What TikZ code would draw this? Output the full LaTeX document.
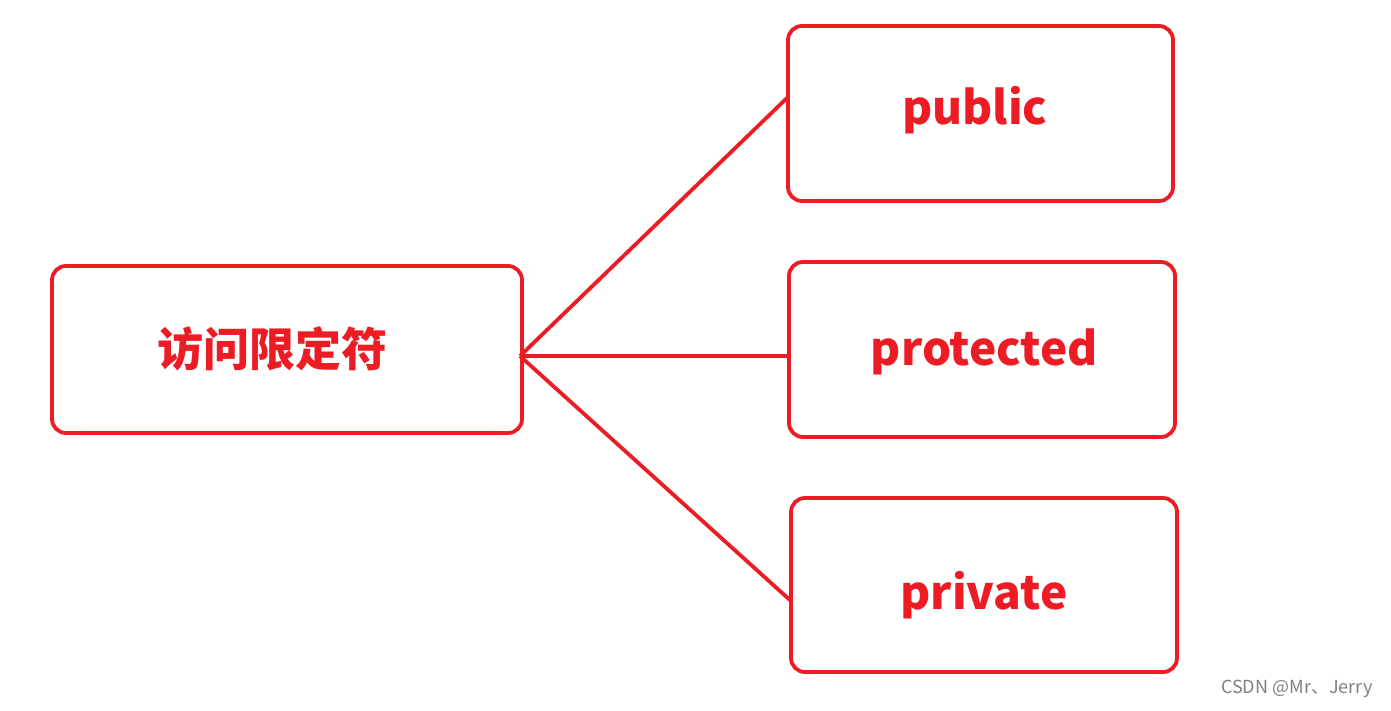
\documentclass[tikz,border=0pt]{standalone}
\usepackage{fontspec}
\newfontfamily\cjk{Noto Sans CJK SC}
\usetikzlibrary{positioning}
\definecolor{boxred}{HTML}{ED1C24}
\tikzset{
  box/.style={draw=boxred, line width=3.8pt, rounded corners=14pt, text=boxred,
    font=\cjk\bfseries\fontsize{46}{50}\selectfont, inner sep=0pt},
  link/.style={draw=boxred, line width=3.8pt}
}
\begin{document}
\begin{tikzpicture}[x=1pt,y=-1pt]
		\useasboundingbox (0,0) rectangle (1391,710);
		\node[box, minimum width=470pt, minimum height=167pt] (acc) at (287,349.5) {};
		\node[box, draw=none] (acclabel) at (272,349) {访问限定符};
		\node[box, minimum width=385pt, minimum height=175pt] (pub) at (980.5,113.5) {};
		\node[box, draw=none] (publabel) at (975,110) {public};
		\node[box, minimum width=386pt, minimum height=175pt] (pro) at (982,349.5) {};
		\node[box, draw=none] (prolabel) at (984.5,352) {protected};
		\node[box, minimum width=386pt, minimum height=174pt] (pri) at (984,585) {};
		\node[box, draw=none] (prilabel) at (984,595) {private};
		
		\coordinate (hub) at (520,356);
		\coordinate (pubin) at (788,97);
		\coordinate (proin) at (789,356);
		\coordinate (priin) at (791,601);
		\draw[link] (hub) -- (pubin);
		\draw[link] (hub) -- (proin);
		\draw[link] (hub) -- (priin);
		
		\node[text=gray, font=\cjk\fontsize{18}{20}\selectfont, anchor=east] (mark) at (1376,689) {CSDN @Mr、Jerry};
\end{tikzpicture}
\end{document}
